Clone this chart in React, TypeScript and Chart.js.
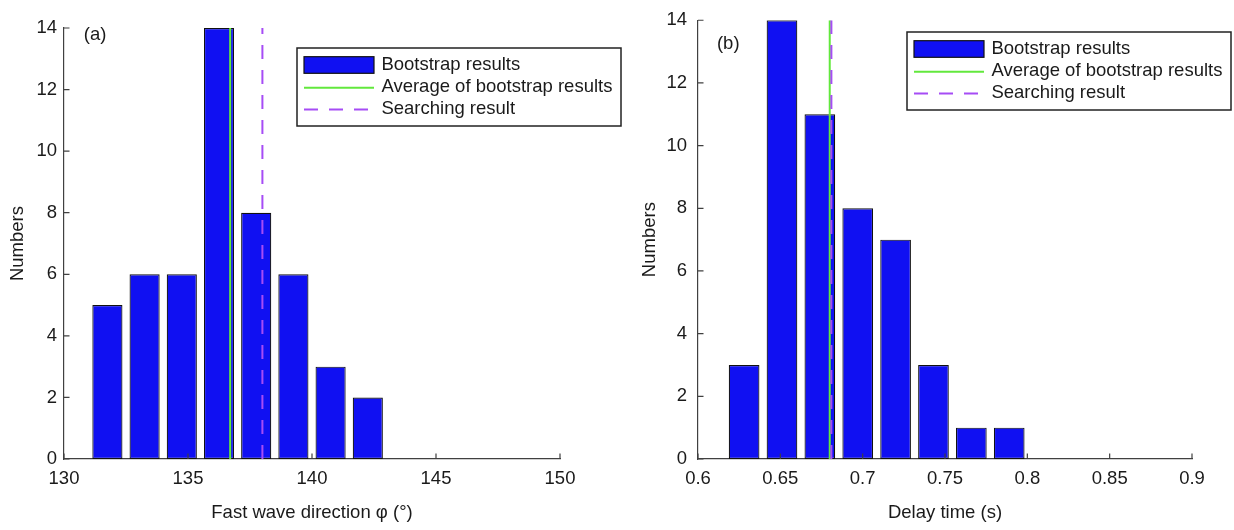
import React, { useEffect, useRef } from 'react';
import { Chart, registerables } from 'chart.js';

Chart.register(...registerables);

// ---------- data ----------
const dirBinCenters = [131.75, 133.25, 134.75, 136.25, 137.75, 139.25, 140.75, 142.25];
const dirCounts = [5, 6, 6, 14, 8, 6, 3, 2];
const dirAverage = 136.7;
const dirSearch = 138.0;
const dirTicks = [130, 135, 140, 145, 150];

const delayBinCenters = [0.628, 0.651, 0.674, 0.697, 0.72, 0.743, 0.766, 0.789];
const delayCounts = [3, 14, 11, 8, 7, 3, 1, 1];
const delayAverage = 0.68;
const delaySearch = 0.681;
const delayTicks = [0.6, 0.65, 0.7, 0.75, 0.8, 0.85, 0.9];

const countTicks = [0, 2, 4, 6, 8, 10, 12, 14];

const seriesLabels = ['Bootstrap results', 'Average of bootstrap results', 'Searching result'];
const panelTags = ['(a)', '(b)'];
const xTitles = ['Fast wave direction \u03C6 (\u00B0)', 'Delay time (s)'];
const yTitle = 'Numbers';

// ---------- styles ----------
const FONT = '"Liberation Sans", Arial, Helvetica, sans-serif';
const FS = 18.5;
const TEXT = '#1a1a1a';
const AXIS = '#404040';
const BAR_FILL = '#1010f2';
const BAR_EDGE = '#111111';
const GREEN = '#62e83c';
const PURPLE = '#a64cf5';
const DASH = [14, 11];

type Panel = {
  tag: string;
  tagPos: [number, number];
  centers: number[];
  counts: number[];
  avg: number;
  search: number;
  xTicks: number[];
  xTitle: string;
  width: number;
  left: number;
  chartLeft: number;
  chartTop: number;
  rightPad: number;
  chartBottom: number;
  yLabelPad: number;
  yTitlePad: number;
  legend: { x: number; y: number; w: number; h: number };
};

const H = 530;

const panels: Panel[] = [
  {
    tag: panelTags[0],
    tagPos: [130.8, 13.77],
    centers: dirBinCenters,
    counts: dirCounts,
    avg: dirAverage,
    search: dirSearch,
    xTicks: dirTicks,
    xTitle: xTitles[0],
    width: 630,
    left: 0,
    chartLeft: 64,
    chartTop: 28,
    rightPad: 70,
    chartBottom: 459,
    yLabelPad: 7,
    yTitlePad: 6.7,
    legend: { x: 297, y: 48, w: 324, h: 78 },
  },
  {
    tag: panelTags[1],
    tagPos: [0.6115, 13.25],
    centers: delayBinCenters,
    counts: delayCounts,
    avg: delayAverage,
    search: delaySearch,
    xTicks: delayTicks,
    xTitle: xTitles[1],
    width: 604,
    left: 630,
    chartLeft: 68,
    chartTop: 11,
    rightPad: 42,
    chartBottom: 459,
    yLabelPad: 11,
    yTitlePad: 8.5,
    legend: { x: 277, y: 32, w: 324, h: 78 },
  },
];

const decorPlugin = {
  id: 'decor',
  afterDraw(chart: any, _args: any, opts: any) {
    const ctx = chart.ctx as CanvasRenderingContext2D;
    const xs = chart.scales.x;
    const ys = chart.scales.y;
    const ca = chart.chartArea;
    ctx.save();
    // inward tick marks
    ctx.strokeStyle = AXIS;
    ctx.lineWidth = 1.2;
    ctx.beginPath();
    xs.ticks.forEach((t: any) => {
      const px = xs.getPixelForValue(t.value);
      ctx.moveTo(px, ca.bottom);
      ctx.lineTo(px, ca.bottom - 5.5);
    });
    ys.ticks.forEach((t: any) => {
      const py = ys.getPixelForValue(t.value);
      ctx.moveTo(ca.left, py);
      ctx.lineTo(ca.left + 5.5, py);
    });
    ctx.stroke();

    // panel tag
    ctx.fillStyle = TEXT;
    ctx.font = `${FS}px ${FONT}`;
    ctx.textAlign = 'left';
    ctx.textBaseline = 'middle';
    ctx.fillText(opts.tag, xs.getPixelForValue(opts.tagPos[0]), ys.getPixelForValue(opts.tagPos[1]));

    // legend box
    const L = opts.legend;
    ctx.fillStyle = '#ffffff';
    ctx.fillRect(L.x, L.y, L.w, L.h);
    ctx.strokeStyle = '#222222';
    ctx.lineWidth = 1.5;
    ctx.strokeRect(L.x, L.y, L.w, L.h);
    const rows = [17, 38.7, 60.5];
    const sx0 = L.x + 7;
    const sx1 = L.x + 77;
    const ds = chart.data.datasets;
    ds.forEach((d: any, i: number) => {
      const cy = L.y + rows[i];
      if (i === 0) {
        ctx.fillStyle = d.backgroundColor;
        ctx.fillRect(sx0, cy - 8.3, sx1 - sx0, 16.6);
        ctx.strokeStyle = d.borderColor;
        ctx.lineWidth = 1.2;
        ctx.setLineDash([]);
        ctx.strokeRect(sx0, cy - 8.3, sx1 - sx0, 16.6);
      } else {
        ctx.strokeStyle = d.borderColor;
        ctx.lineWidth = d.borderWidth;
        ctx.setLineDash(d.borderDash || []);
        ctx.beginPath();
        ctx.moveTo(sx0, cy + 1);
        ctx.lineTo(sx1, cy + 1);
        ctx.stroke();
        ctx.setLineDash([]);
      }
      ctx.fillStyle = TEXT;
      ctx.font = `${FS}px ${FONT}`;
      ctx.textAlign = 'left';
      ctx.textBaseline = 'middle';
      ctx.fillText(d.label, L.x + 84.4, cy);
    });
    ctx.restore();
  },
};

function PanelChart({ p }: { p: Panel }) {
  const ref = useRef<HTMLCanvasElement | null>(null);
  useEffect(() => {
    if (!ref.current) return;
    const xMin = p.xTicks[0];
    const xMax = p.xTicks[p.xTicks.length - 1];
    const yMax = countTicks[countTicks.length - 1];
    const chart = new Chart(ref.current, {
      type: 'bar',
      data: {
        datasets: [
          {
            type: 'bar',
            label: seriesLabels[0],
            data: p.centers.map((x, i) => ({ x, y: p.counts[i] })),
            backgroundColor: BAR_FILL,
            borderColor: BAR_EDGE,
            borderWidth: 1.2,
            borderSkipped: false,
            barPercentage: 0.81,
            categoryPercentage: 1,
            order: 3,
          } as any,
          {
            type: 'line',
            label: seriesLabels[1],
            data: [
              { x: p.avg, y: 0 },
              { x: p.avg, y: yMax },
            ],
            borderColor: GREEN,
            borderWidth: 2,
            pointRadius: 0,
            fill: false,
            order: 2,
          } as any,
          {
            type: 'line',
            label: seriesLabels[2],
            data: [
              { x: p.search, y: 0 },
              { x: p.search, y: yMax },
            ],
            borderColor: PURPLE,
            borderWidth: 2,
            borderDash: DASH,
            pointRadius: 0,
            fill: false,
            order: 1,
          } as any,
        ],
      },
      options: {
        responsive: false,
        animation: false,
        events: [],
        layout: { padding: { left: 0, top: p.chartTop, right: p.rightPad, bottom: 0 } },
        plugins: {
          legend: { display: false },
          tooltip: { enabled: false },
          decor: { tag: p.tag, tagPos: p.tagPos, legend: p.legend },
        } as any,
        scales: {
          x: {
            type: 'linear',
            min: xMin,
            max: xMax,
            offset: false,
            grid: { display: false, drawTicks: false },
            border: { display: true, color: AXIS, width: 1.2 },
            afterBuildTicks: (s: any) => {
              s.ticks = p.xTicks.map((v) => ({ value: v }));
            },
            afterFit: (s: any) => {
              s.height = H - p.chartBottom;
            },
            ticks: {
              autoSkip: false,
              maxRotation: 0,
              padding: 8.4,
              color: TEXT,
              font: { family: FONT, size: FS },
              callback: (v: any) => String(v),
            },
            title: {
              display: true,
              text: p.xTitle,
              color: TEXT,
              font: { family: FONT, size: FS },
              padding: { top: 0, bottom: 6 },
            },
          },
          y: {
            type: 'linear',
            min: 0,
            max: yMax,
            grid: { display: false, drawTicks: false },
            border: { display: true, color: AXIS, width: 1.2 },
            afterBuildTicks: (s: any) => {
              s.ticks = countTicks.map((v) => ({ value: v }));
            },
            afterFit: (s: any) => {
              s.width = p.chartLeft;
            },
            ticks: {
              autoSkip: false,
              padding: p.yLabelPad,
              color: TEXT,
              font: { family: FONT, size: FS, lineHeight: 1 },
              callback: (v: any) => String(v),
            },
            title: {
              display: true,
              text: yTitle,
              color: TEXT,
              font: { family: FONT, size: FS },
              padding: { top: p.yTitlePad, bottom: 0 },
            },
          },
        },
      } as any,
      plugins: [decorPlugin],
    });
    return () => chart.destroy();
  }, [p]);
  return (
    <canvas
      ref={ref}
      width={p.width}
      height={H}
      style={{ position: 'absolute', left: p.left, top: 0, width: p.width, height: H, display: 'block' }}
    />
  );
}

export default function App() {
  return (
    <div
      style={{
        position: 'fixed',
        left: 0,
        top: 0,
        width: 1234,
        height: H,
        background: '#ffffff',
        overflow: 'hidden',
      }}
    >
      {panels.map((p, i) => (
        <PanelChart key={i} p={p} />
      ))}
    </div>
  );
}
